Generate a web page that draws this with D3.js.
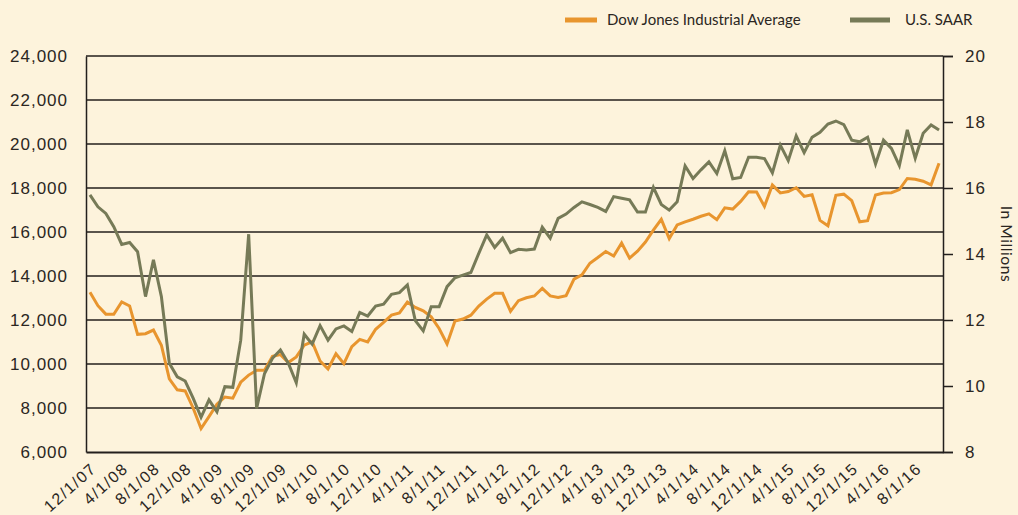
<!DOCTYPE html>
<html>
<head>
<meta charset="utf-8">
<script src="https://cdn.jsdelivr.net/npm/d3@7"></script>
<style>
  body { margin: 0; background: #fdf3dc; }
  svg { display: block; font-family: Lato, "Open Sans", sans-serif; }
</style>
</head>
<body>
<div id="chart"></div>
<script>
// monthly, 12/1/07 .. 11/1/16
var months = d3.timeMonth.range(new Date(2007, 11, 1), new Date(2016, 11, 1));
var fmt = d3.timeFormat("%-m/%-d/%y");

var dow = [
  13265, 12650, 12266, 12263, 12820, 12638, 11350, 11378, 11544, 10851, 9325, 8829,
  8776, 8001, 7063, 7609, 8168, 8500, 8447, 9172, 9496, 9712, 9713, 10345,
  10428, 10067, 10325, 10857, 11009, 10137, 9774, 10466, 10015, 10788, 11118, 11006,
  11578, 11892, 12226, 12320, 12811, 12570, 12414, 12143, 11614, 10913, 11955, 12046,
  12218, 12633, 12952, 13212, 13214, 12393, 12880, 13009, 13091, 13437, 13096, 13026,
  13104, 13861, 14054, 14579, 14840, 15116, 14910, 15500, 14810, 15130, 15546, 16086,
  16577, 15699, 16322, 16458, 16581, 16717, 16827, 16563, 17098, 17043, 17391, 17828,
  17823, 17165, 18133, 17776, 17841, 18011, 17620, 17690, 16528, 16285, 17664, 17720,
  17425, 16466, 16517, 17685, 17774, 17787, 17930, 18432, 18401, 18308, 18142, 19124
];

var saar = [
  15.79, 15.43, 15.23, 14.83, 14.29, 14.35, 14.07, 12.71, 13.82, 12.71, 10.69, 10.28,
  10.15, 9.63, 9.05, 9.58, 9.22, 9.98, 9.96, 11.39, 14.6, 9.32, 10.38, 10.84,
  11.09, 10.69, 10.1, 11.57, 11.27, 11.83, 11.39, 11.73, 11.82, 11.65, 12.23, 12.12,
  12.42, 12.48, 12.78, 12.83, 13.06, 11.98, 11.67, 12.4, 12.4, 13.01, 13.28, 13.36,
  13.44, 14.02, 14.58, 14.2, 14.48, 14.04, 14.14, 14.12, 14.15, 14.81, 14.48, 15.08,
  15.21, 15.41, 15.58, 15.5, 15.41, 15.29, 15.74, 15.69, 15.64, 15.27, 15.27, 16.02,
  15.5, 15.33, 15.58, 16.67, 16.29, 16.55, 16.79, 16.44, 17.13, 16.28, 16.32, 16.93,
  16.93, 16.89, 16.46, 17.3, 16.83, 17.58, 17.07, 17.54, 17.69, 17.94, 18.03, 17.92,
  17.45, 17.4, 17.54, 16.73, 17.45, 17.2, 16.68, 17.76, 16.9, 17.66, 17.91, 17.76
];

var leftTicks = [6000, 8000, 10000, 12000, 14000, 16000, 18000, 20000, 22000, 24000];
var rightTicks = [8, 10, 12, 14, 16, 18, 20];
var seriesNames = ["Dow Jones Industrial Average", "U.S. SAAR"];
var colors = ["#e8952e", "#767a57"];

var W = 1018, H = 515;
var mLeft = 86, mRight = 943, mTop = 56, mBottom = 452;

var svg = d3.select("#chart").append("svg")
    .attr("width", W).attr("height", H);

svg.append("rect").attr("width", W).attr("height", H).attr("fill", "#fdf3dc");

var x = d3.scalePoint().domain(d3.range(months.length)).range([mLeft, mRight]).padding(0.5);
var yL = d3.scaleLinear().domain([6000, 24000]).range([mBottom, mTop]);
var yR = d3.scaleLinear().domain([8, 20]).range([mBottom, mTop]);

// gridlines
svg.append("g").selectAll("line")
    .data(leftTicks.slice(1))
    .enter().append("line")
    .attr("x1", mLeft).attr("x2", mRight)
    .attr("y1", function(d) { return yL(d); })
    .attr("y2", function(d) { return yL(d); })
    .attr("stroke", "#231f1c").attr("stroke-width", 1.5);

// left axis
var gl = svg.append("g").attr("transform", "translate(" + mLeft + ",0)")
    .call(d3.axisLeft(yL).tickValues(leftTicks).tickSize(0).tickPadding(18).tickFormat(d3.format(",")));
gl.select(".domain").attr("stroke", "#231f1c").attr("stroke-width", 1.5);
gl.selectAll("text").attr("font-size", 17).attr("letter-spacing", 1).attr("fill", "#2b2622");

// right axis
var gr = svg.append("g").attr("transform", "translate(" + mRight + ",0)")
    .call(d3.axisRight(yR).tickValues(rightTicks).tickSize(10).tickPadding(12));
gr.select(".domain").attr("stroke", "#231f1c").attr("stroke-width", 1.5);
gr.selectAll("line").attr("stroke", "#231f1c").attr("stroke-width", 1.5);
gr.selectAll("text").attr("font-size", 17).attr("letter-spacing", 1).attr("fill", "#2b2622");

// bottom axis
var tickIdx = d3.range(0, months.length, 4);
var gb = svg.append("g").attr("transform", "translate(0," + mBottom + ")")
    .call(d3.axisBottom(x).tickValues(tickIdx).tickSize(0).tickFormat(function(i) { return fmt(months[i]); }));
gb.select(".domain").attr("stroke", "#231f1c").attr("stroke-width", 2);
gb.selectAll("text")
    .attr("font-size", 16).attr("letter-spacing", 1.5).attr("fill", "#2b2622")
    .attr("text-anchor", "end")
    .attr("dy", 0)
    .attr("transform", "translate(7,18) rotate(-42)")
    .attr("y", 0).attr("x", 0);

// lines
var lineL = d3.line().x(function(d, i) { return x(i); }).y(function(d) { return yL(d); });
var lineR = d3.line().x(function(d, i) { return x(i); }).y(function(d) { return yR(d); });

svg.append("path").datum(dow).attr("d", lineL)
    .attr("fill", "none").attr("stroke", colors[0]).attr("stroke-width", 3);
svg.append("path").datum(saar).attr("d", lineR)
    .attr("fill", "none").attr("stroke", colors[1]).attr("stroke-width", 3);

// right axis title
svg.append("text")
    .attr("transform", "translate(1001,244) rotate(90)")
    .attr("text-anchor", "middle")
    .attr("font-size", 15.5).attr("letter-spacing", 0.6).attr("fill", "#2b2622")
    .text("In Millions");

// legend
var legX = [565, 850], legW = [32, 40];
seriesNames.forEach(function(n, k) {
  svg.append("line").attr("x1", legX[k]).attr("x2", legX[k] + legW[k])
      .attr("y1", 20).attr("y2", 20)
      .attr("stroke", colors[k]).attr("stroke-width", 5);
  svg.append("text").attr("x", legX[k] + legW[k] + 10 + 5 * k).attr("y", 25)
      .attr("font-size", 15).attr("fill", "#2b2622").text(n);
});
</script>
</body>
</html>
